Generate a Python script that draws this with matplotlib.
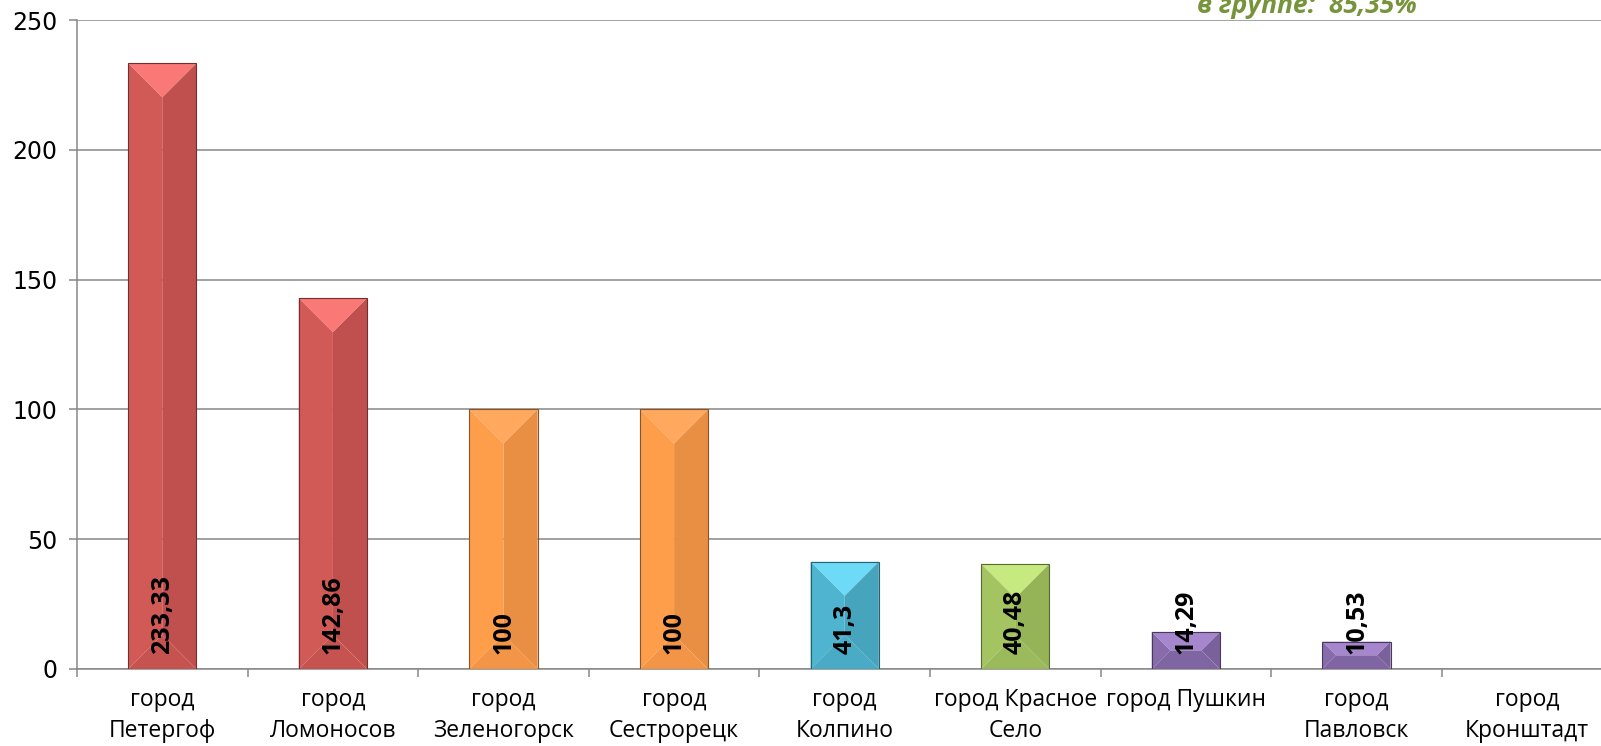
import numpy as np
import matplotlib
matplotlib.use('Agg')
import matplotlib.pyplot as plt
import matplotlib.colors as mcolors
from matplotlib.patches import Polygon

plt.rcParams['font.family'] = ['Open Sans', 'DejaVu Sans']

# data
cities = ['город\nПетергоф', 'город\nЛомоносов', 'город\nЗеленогорск', 'город\nСестрорецк',
          'город\nКолпино', 'город Красное\nСело', 'город Пушкин', 'город\nПавловск',
          'город\nКронштадт']
values = [233.33, 142.86, 100, 100, 41.3, 40.48, 14.29, 10.53, 0]
labels = ['233,33', '142,86', '100', '100', '41,3', '40,48', '14,29', '10,53', '']
colors = ['#CD5653', '#CD5653', '#F99A48', '#F99A48', '#4BB0CB', '#A0C05E',
          '#8468A8', '#8468A8', '#8468A8']
note = 'в группе:  85,35%'


def shade(c, f):
    # f > 0 brightens (keeps hue), f < 0 darkens
    h, s, v = mcolors.rgb_to_hsv(mcolors.to_rgb(c))
    if f > 0:
        v = min(1, v * (1 + f))
        s = s * (1 - 0.5 * f)
    else:
        v = v * (1 + f)
    return tuple(mcolors.hsv_to_rgb((h, s, v)))


fig = plt.figure(figsize=(16.01, 7.46), dpi=100)
ax = fig.add_axes([77 / 1601, 1 - 669 / 746, 9 * 170.6 / 1601, 649 / 746])
ax.set_xlim(0, 9)
ax.set_ylim(0, 250)

grid_c = '#878787'
ax.set_yticks(np.arange(0, 251, 50))
ax.yaxis.grid(True, color=grid_c, lw=1.1)
ax.set_axisbelow(True)
for s in ['top', 'right']:
    ax.spines[s].set_visible(False)
for s in ['left', 'bottom']:
    ax.spines[s].set_color(grid_c)
    ax.spines[s].set_linewidth(1.1)

xs = np.arange(9) + 0.5
ax.set_xticks(xs)
ax.set_xticklabels(cities, fontsize=16.5, linespacing=1.35)
ax.set_xticks(np.arange(0, 10), minor=True)
ax.tick_params(axis='x', which='major', length=0, pad=14)
ax.tick_params(axis='x', which='minor', length=6, color=grid_c, width=1.1)
ax.tick_params(axis='y', length=6, color=grid_c, width=1.1, pad=8)
for t in ax.get_yticklabels():
    t.set_fontfamily('DejaVu Sans')
    t.set_fontsize(17)

# px per data unit, for the bevel
bw = 0.4
px_x = 170.6
px_y = 649 / 250.0

for x, v, c, lab in zip(xs, values, colors, labels):
    if v <= 0:
        continue
    x0, x1 = x - bw / 2, x + bw / 2
    top, bot = v, 0
    d = min(bw * px_x, v * px_y) / 2
    dx, dy = d / px_x, d / px_y
    parts = [
        ([(x0, top), (x1, top), (x1 - dx, top - dy), (x0 + dx, top - dy)], 0.22),
        ([(x0, top), (x0 + dx, top - dy), (x0 + dx, bot + dy), (x0, bot)], 0.02),
        ([(x1, top), (x1 - dx, top - dy), (x1 - dx, bot + dy), (x1, bot)], -0.07),
        ([(x0, bot), (x0 + dx, bot + dy), (x1 - dx, bot + dy), (x1, bot)], -0.03),
        ([(x0 + dx, top - dy), (x1 - dx, top - dy), (x1 - dx, bot + dy), (x0 + dx, bot + dy)], 0.0),
    ]
    for pts, f in parts:
        ax.add_patch(Polygon(pts, closed=True, facecolor=shade(c, f), edgecolor='none', zorder=3))
    ax.add_patch(Polygon([(x0, bot), (x0, top), (x1, top), (x1, bot)], closed=True,
                         facecolor='none', edgecolor=shade(c, -0.45), lw=0.8, zorder=4))
    ax.annotate(lab, (x, 0), xytext=(0, 11), textcoords='offset points', rotation=90,
                ha='center', va='bottom', fontsize=18, fontweight='bold', color='black', zorder=5)

fig.text(1307 / 1601, 1 - 13 / 746, note, ha='center', va='baseline', fontsize=19,
         fontweight='bold', fontstyle='italic', color='#77933C')

fig.savefig('out.png', dpi=100)
